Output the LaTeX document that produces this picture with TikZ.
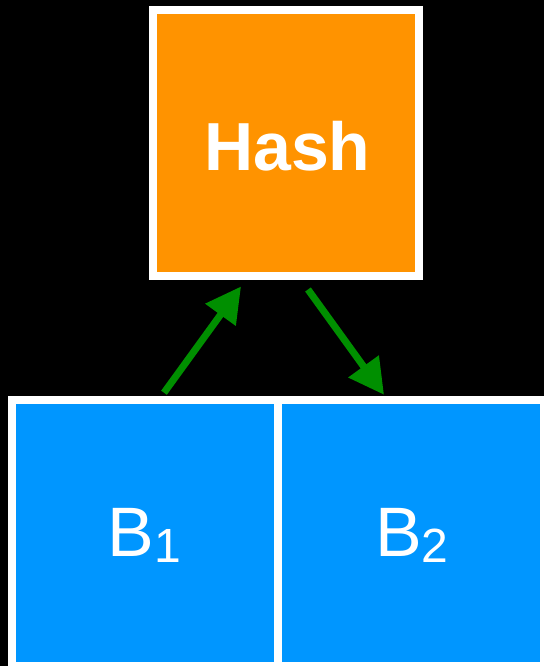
\documentclass[tikz,border=0pt]{standalone}
\usepackage{fontspec}
\setmainfont{Liberation Sans}
\usetikzlibrary{arrows.meta}

\definecolor{hashorange}{RGB}{255,147,0}
\definecolor{blockblue}{RGB}{0,150,255}
\definecolor{arrowgreen}{RGB}{0,143,0}

\tikzset{
  card/.style={draw=white, line width=8pt, minimum width=266pt, minimum height=266pt,
               inner sep=0pt, text=white, font=\fontsize{70}{80}\selectfont},
  hashbox/.style={card, fill=hashorange, font=\fontsize{68}{80}\selectfont\bfseries},
  blockbox/.style={card, fill=blockblue},
  flow/.style={draw=arrowgreen, line width=7pt,
               -{Triangle[length=35pt, width=36pt]}}
}

\newcommand{\blk}[1]{B\raisebox{-6pt}{\fontsize{48}{48}\selectfont #1}}

\begin{document}
\begin{tikzpicture}[x=1pt, y=1pt]
  \useasboundingbox (0,0) rectangle (544,666);
  \fill[black] (0,0) rectangle (544,666);

  % the hash on top, the two blocks below
  \node[hashbox]  (hash) at (286.25,522.5) {};
  \node[blockbox] (b1)   at (145.25,132.75) {};
  \node[blockbox] (b2)   at (410.75,132.75) {};

  % labels, set a little below the box centres
  \node[text=white, font=\fontsize{68}{80}\selectfont\bfseries, inner sep=0pt]
       (hashlabel) at ([xshift=1pt, yshift=-2.5pt]hash.center) {Hash};
  \node[text=white, font=\fontsize{70}{80}\selectfont, inner sep=0pt]
       (b1label) at ([xshift=-1pt, yshift=-2.5pt]b1.center) {\blk{1}};
  \node[text=white, font=\fontsize{70}{80}\selectfont, inner sep=0pt]
       (b2label) at ([xshift=1pt, yshift=-2.5pt]b2.center) {\blk{2}};

  % B1 feeds the hash, the hash feeds B2
  \draw[flow] ([xshift=18.75pt, yshift=3.5pt]b1.north) -- ([xshift=-45.25pt, yshift=-6pt]hash.south);
  \draw[flow] ([xshift=21.75pt, yshift=-9pt]hash.south) -- ([xshift=-26.75pt, yshift=1.5pt]b2.north);
\end{tikzpicture}
\end{document}
